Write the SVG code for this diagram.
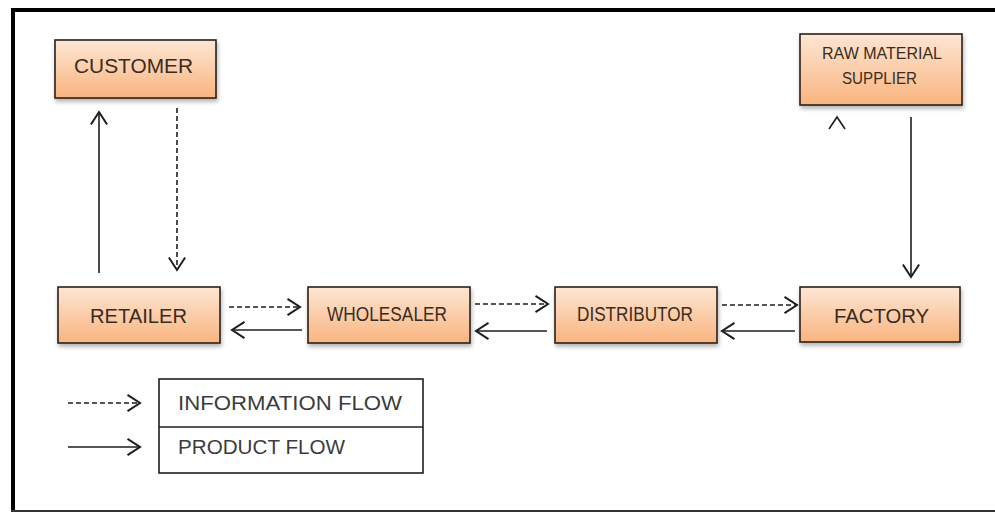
<svg xmlns="http://www.w3.org/2000/svg" width="995" height="512" viewBox="0 0 995 512">
<style>
.node rect{fill:url(#peach);stroke:#2a2018;stroke-width:1.6;filter:url(#sh)}
.node text{font-family:"Liberation Sans",Arial,sans-serif;fill:#3a2c20;font-size:20px}
.lg text{font-family:"Liberation Sans",Arial,sans-serif;fill:#3c3c3c;font-size:20px}
.c{fill:none;stroke:#1e1e1e;stroke-width:1.6}
.d{stroke-dasharray:5 3}
</style>
<defs>
<linearGradient id="peach" x1="0" y1="0" x2="0" y2="1">
<stop offset="0" stop-color="#fde6d4"/>
<stop offset="1" stop-color="#f9b47f"/>
</linearGradient>
<filter id="sh" x="-10%" y="-10%" width="125%" height="135%">
<feGaussianBlur in="SourceAlpha" stdDeviation="2"/>
<feOffset dx="1" dy="3" result="o"/>
<feComponentTransfer><feFuncA type="linear" slope="0.3"/></feComponentTransfer>
<feMerge><feMergeNode/><feMergeNode in="SourceGraphic"/></feMerge>
</filter>
<marker id="ah" markerUnits="userSpaceOnUse" markerWidth="20" markerHeight="20" viewBox="-12 -8 14 16" refX="0" refY="0" orient="auto">
<path d="M-10,-6.5 L0,0 L-10,6.5" fill="none" stroke="#1e1e1e" stroke-width="1.6"/>
</marker>
</defs>
<rect x="0" y="0" width="995" height="512" fill="#fff"/>
<g id="frame">
<line x1="11" y1="10" x2="995" y2="10" stroke="#000" stroke-width="4"/>
<line x1="13" y1="8" x2="13" y2="512" stroke="#000" stroke-width="4"/>
<line x1="11" y1="511" x2="995" y2="511" stroke="#333" stroke-width="2"/>
</g>
<g id="connectors">
<line class="c" x1="99" y1="273" x2="99" y2="112" marker-end="url(#ah)"/>
<line class="c d" x1="177" y1="108" x2="177" y2="270" marker-end="url(#ah)"/>
<line class="c" x1="911" y1="117" x2="911" y2="277" marker-end="url(#ah)"/>
<path class="c" d="M829,129 L837,117 L845,129"/>
<line class="c d" x1="229" y1="307" x2="300" y2="307" marker-end="url(#ah)"/>
<line class="c" x1="302" y1="330" x2="232" y2="330" marker-end="url(#ah)"/>
<line class="c d" x1="475" y1="304" x2="548" y2="304" marker-end="url(#ah)"/>
<line class="c" x1="547" y1="331" x2="476" y2="331" marker-end="url(#ah)"/>
<line class="c d" x1="722" y1="305" x2="797" y2="305" marker-end="url(#ah)"/>
<line class="c" x1="795" y1="331" x2="722" y2="331" marker-end="url(#ah)"/>
<line class="c d" x1="68" y1="403" x2="140" y2="403" marker-end="url(#ah)"/>
<line class="c" x1="68" y1="447" x2="140" y2="447" marker-end="url(#ah)"/>
</g>
<g id="customer" class="node">
<rect x="55" y="40" width="161" height="58"/>
<text x="74" y="73" textLength="119" lengthAdjust="spacingAndGlyphs">CUSTOMER</text>
</g>
<g id="raw-material-supplier" class="node">
<rect x="800" y="34" width="162" height="71"/>
<text x="822" y="59" font-size="16" style="font-size:16px" textLength="120" lengthAdjust="spacingAndGlyphs">RAW MATERIAL</text>
<text x="842" y="84" style="font-size:16px" textLength="75" lengthAdjust="spacingAndGlyphs">SUPPLIER</text>
</g>
<g id="retailer" class="node">
<rect x="58" y="287" width="162" height="56"/>
<text x="90" y="323" textLength="97" lengthAdjust="spacingAndGlyphs">RETAILER</text>
</g>
<g id="wholesaler" class="node">
<rect x="308" y="287" width="162" height="56"/>
<text x="327" y="321" textLength="120" lengthAdjust="spacingAndGlyphs">WHOLESALER</text>
</g>
<g id="distributor" class="node">
<rect x="555" y="287" width="162" height="56"/>
<text x="577" y="321" textLength="116" lengthAdjust="spacingAndGlyphs">DISTRIBUTOR</text>
</g>
<g id="factory" class="node">
<rect x="800" y="287" width="160" height="55"/>
<text x="834" y="323" textLength="95" lengthAdjust="spacingAndGlyphs">FACTORY</text>
</g>
<g id="legend" class="lg">
<rect x="159" y="379" width="264" height="94" fill="#fff" stroke="#1e1e1e" stroke-width="1.6"/>
<line x1="159" y1="427" x2="423" y2="427" stroke="#1e1e1e" stroke-width="1.6"/>
<text x="178" y="410" textLength="224" lengthAdjust="spacingAndGlyphs">INFORMATION FLOW</text>
<text x="178" y="454" textLength="167" lengthAdjust="spacingAndGlyphs">PRODUCT FLOW</text>
</g>
</svg>
